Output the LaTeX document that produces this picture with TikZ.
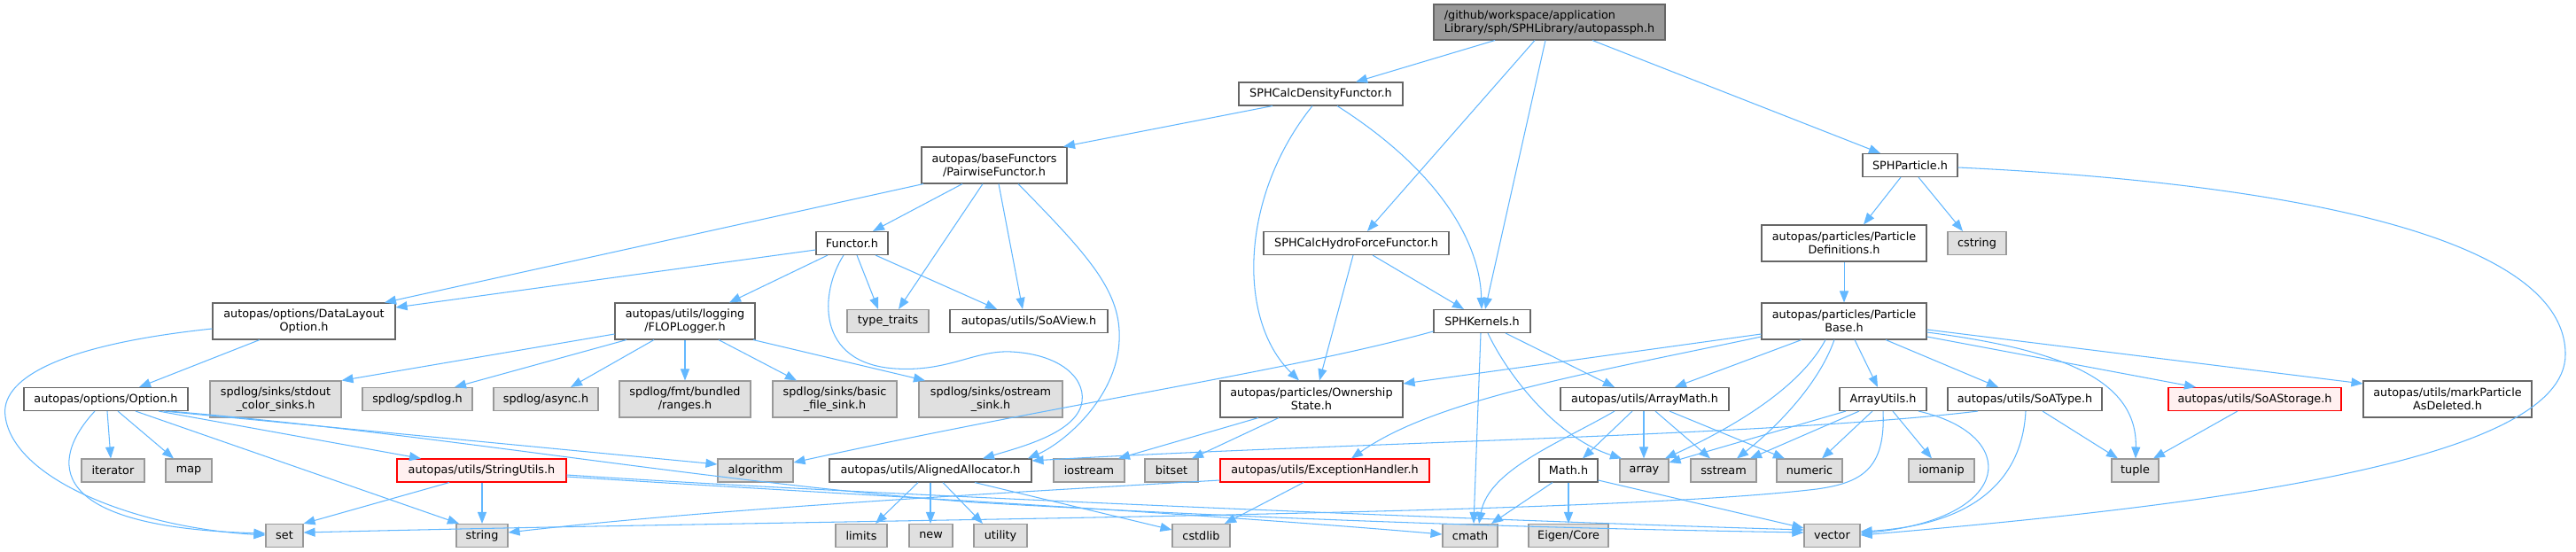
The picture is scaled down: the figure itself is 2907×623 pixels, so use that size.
\documentclass[tikz,border=0pt]{standalone}
\usepackage{fontspec}
\setmainfont{DejaVu Sans}
\usetikzlibrary{arrows.meta}
\definecolor{edgec}{HTML}{63B8FF}
\definecolor{bordn}{HTML}{666666}
\definecolor{bordg}{HTML}{999999}
\definecolor{fillg}{HTML}{E0E0E0}
\definecolor{fillr}{HTML}{FFF0F0}
\definecolor{fillroot}{HTML}{999999}
\newcommand\dgfont{\fontsize{12.8pt}{15pt}\selectfont}
\begin{document}
\begin{tikzpicture}[x=1pt,y=-1pt,
  base/.style={draw, line width=1.1pt, inner sep=0pt, align=center, font=\dgfont, text=black},
  wbox/.style={base, draw=bordn, fill=white},
  gbox/.style={base, draw=bordg, fill=fillg},
  rbox/.style={base, draw=red, fill=fillr},
  rootbox/.style={base, draw=bordn, fill=fillroot, align=left},
  one/.style={minimum height=26pt},
  two/.style={minimum height=41pt},
  dep/.style={draw=edgec, line width=1.05pt, -{Triangle[length=13pt,width=10pt]}}]
\fill[white] (0,0) rectangle (2907,623);
\useasboundingbox (0,0) rectangle (2907,623);
% nodes
\node[rootbox, minimum width=261pt, minimum height=40pt] (root) at (1748.5,25) {/github/workspace/application\\Library/sph/SPHLibrary/autopassph.h};
\node[wbox, one, minimum width=185pt] (dens) at (1490.5,106) {SPHCalcDensityFunctor.h};
\node[wbox, two, minimum width=164pt] (pair) at (1122,186.5) {autopas/baseFunctors\\/PairwiseFunctor.h};
\node[wbox, one, minimum width=81pt] (functor) at (961.5,274.5) {Functor.h};
\node[wbox, one, minimum width=209pt] (hydro) at (1530.5,274.5) {SPHCalcHydroForceFunctor.h};
\node[wbox, one, minimum width=107pt] (sphpart) at (2155.5,186.5) {SPHParticle.h};
\node[wbox, two, minimum width=186pt] (partdef) at (2081,274.5) {autopas/particles/Particle\\Definitions.h};
\node[gbox, one, minimum width=66pt] (cstring) at (2231,274.5) {cstring};
\node[wbox, two, minimum width=206pt] (datalayout) at (343,362.5) {autopas/options/DataLayout\\Option.h};
\node[wbox, two, minimum width=158pt] (flop) at (773,362.5) {autopas/utils/logging\\/FLOPLogger.h};
\node[gbox, one, minimum width=92pt] (typetraits) at (1002,362.5) {type\_traits};
\node[wbox, one, minimum width=178pt] (soaview) at (1161,362.5) {autopas/utils/SoAView.h};
\node[wbox, one, minimum width=109pt] (kernels) at (1672.5,362.5) {SPHKernels.h};
\node[wbox, two, minimum width=186pt] (partbase) at (2081,362.5) {autopas/particles/Particle\\Base.h};
\node[wbox, one, minimum width=185pt] (option) at (119.5,450.5) {autopas/options/Option.h};
\node[gbox, two, minimum width=148pt] (stdout) at (311,450.5) {spdlog/sinks/stdout\\\_color\_sinks.h};
\node[gbox, one, minimum width=124pt] (spdlog) at (471,450.5) {spdlog/spdlog.h};
\node[gbox, one, minimum width=118pt] (async) at (616,450.5) {spdlog/async.h};
\node[gbox, two, minimum width=148pt] (ranges) at (773,450.5) {spdlog/fmt/bundled\\/ranges.h};
\node[gbox, two, minimum width=140pt] (basic) at (942,450.5) {spdlog/sinks/basic\\\_file\_sink.h};
\node[gbox, two, minimum width=162pt] (ostream) at (1118,450.5) {spdlog/sinks/ostream\\\_sink.h};
\node[wbox, two, minimum width=206pt] (ownership) at (1480,450.5) {autopas/particles/Ownership\\State.h};
\node[wbox, one, minimum width=190pt] (arraymath) at (1856,450.5) {autopas/utils/ArrayMath.h};
\node[wbox, one, minimum width=98pt] (arrayutils) at (2125,450.5) {ArrayUtils.h};
\node[wbox, one, minimum width=174pt] (soatype) at (2285,450.5) {autopas/utils/SoAType.h};
\node[rbox, one, minimum width=195pt] (soastorage) at (2544.5,450.5) {autopas/utils/SoAStorage.h};
\node[wbox, two, minimum width=190pt] (markdel) at (2762,450.5) {autopas/utils/markParticle\\AsDeleted.h};
\node[gbox, one, minimum width=71pt] (iterator) at (127.5,531) {iterator};
\node[gbox, one, minimum width=52pt] (map) at (213,531) {map};
\node[rbox, one, minimum width=191pt] (stringutils) at (543.5,531) {autopas/utils/StringUtils.h};
\node[gbox, one, minimum width=85pt] (algorithm) at (852.5,531) {algorithm};
\node[wbox, one, minimum width=228pt] (aligned) at (1050,531) {autopas/utils/AlignedAllocator.h};
\node[gbox, one, minimum width=80pt] (iostream) at (1229,531) {iostream};
\node[gbox, one, minimum width=60pt] (bitset) at (1322,531) {bitset};
\node[rbox, one, minimum width=236pt] (exception) at (1495,531) {autopas/utils/ExceptionHandler.h};
\node[wbox, one, minimum width=66pt] (mathh) at (1770,531) {Math.h};
\node[gbox, one, minimum width=55pt] (array) at (1855.5,531) {array};
\node[gbox, one, minimum width=74pt] (sstream) at (1945,531) {sstream};
\node[gbox, one, minimum width=74pt] (numeric) at (2042,531) {numeric};
\node[gbox, one, minimum width=74pt] (iomanip) at (2191,531) {iomanip};
\node[gbox, one, minimum width=53pt] (tuple) at (2409.5,531) {tuple};
\node[gbox, one, minimum width=42pt] (set) at (321,604.5) {set};
\node[gbox, one, minimum width=58pt] (string) at (544,604.5) {string};
\node[gbox, one, minimum width=58pt] (limits) at (972,604.5) {limits};
\node[gbox, one, minimum width=49pt] (new) at (1050.5,604.5) {new};
\node[gbox, one, minimum width=60pt] (utility) at (1129,604.5) {utility};
\node[gbox, one, minimum width=65pt] (cstdlib) at (1355.5,604.5) {cstdlib};
\node[gbox, one, minimum width=62pt] (cmath) at (1659,604.5) {cmath};
\node[gbox, one, minimum width=90pt] (eigen) at (1770,604.5) {Eigen/Core};
\node[gbox, one, minimum width=63pt] (vector) at (2067.5,604.5) {vector};
% edges
\draw[dep] (root.south -| 1687,0) -- (dens.north -| 1530,0);
\draw[dep] (root.south -| 1732,0) -- (hydro.north -| 1543,0);
\draw[dep] (root.south -| 1744,0) -- (kernels.north -| 1676,0);
\draw[dep] (root.south -| 1797,0) -- (sphpart.north -| 2122,0);
\draw[dep] (dens.south -| 1436,0) -- (pair.north -| 1200,0);
\draw[dep] (dens.south -| 1481,0) .. controls (1400,220) and (1395,360) .. (ownership.north -| 1466,0);
\draw[dep] (dens.south -| 1509,0) .. controls (1620,190) and (1670,270) .. (kernels.north -| 1672,0);
\draw[dep] (hydro.south -| 1527,0) -- (ownership.north -| 1489,0);
\draw[dep] (hydro.south -| 1549,0) -- (kernels.north -| 1652,0);
\draw[dep] (pair.south -| 1086,0) -- (functor.north -| 985,0);
\draw[dep] (pair.south -| 1042,0) -- (datalayout.north -| 434,0);
\draw[dep] (pair.south -| 1109,0) -- (typetraits.north -| 1014,0);
\draw[dep] (pair.south -| 1127,0) -- (soaview.north -| 1154,0);
\draw[dep] (pair.south -| 1149,0) .. controls (1230,290) and (1266,330) .. (1263,385) .. controls (1260,450) and (1200,500) .. (aligned.north -| 1160,0);
\draw[dep] (functor.west |- 0,282) -- (datalayout.east |- 0,347);
\draw[dep] (functor.south -| 934,0) -- (flop.north -| 823,0);
\draw[dep] (functor.south -| 967,0) -- (typetraits.north -| 991,0);
\draw[dep] (functor.south -| 988,0) -- (soaview.north -| 1125,0);
\draw[dep] (functor.south -| 952,0) .. controls (925,330) and (920,410) .. (1010,416) .. controls (1070,420) and (1100,395) .. (1141,397) .. controls (1200,400) and (1228,430) .. (1220,458) .. controls (1210,490) and (1150,505) .. (aligned.north -| 1109,0);
\draw[dep] (datalayout.south -| 293,0) -- (option.north -| 157,0);
\draw[dep] (datalayout.west |- 0,371) .. controls (60,390) and (0,430) .. (6,470) .. controls (15,540) and (150,595) .. (set.west |- 0,604);
\draw[dep] (option.south -| 107,0) .. controls (55,520) and (50,595) .. (set.west |- 0,602);
\draw[dep] (option.south -| 121,0) -- (iterator.north -| 125,0);
\draw[dep] (option.south -| 133,0) -- (map.north -| 196,0);
\draw[dep] (option.south -| 153,0) -- (string.north -| 518,0);
\draw[dep] (option.south -| 179,0) -- (stringutils.north -| 475,0);
\draw[dep] (option.south -| 185,0) -- (algorithm.west |- 0,524);
\draw[dep] (option.south -| 191,0) .. controls (500,490) and (800,545) .. (1100,567) .. controls (1500,590) and (1800,597) .. (vector.west |- 0,601);
\draw[dep] (stringutils.south -| 507,0) -- (set.north east);
\draw[dep] (stringutils.south -| 544,0) -- (string.north -| 544,0);
\draw[dep] (stringutils.east |- 0,538) .. controls (900,555) and (1300,575) .. (cmath.west |- 0,603);
\draw[dep] (stringutils.east |- 0,536) .. controls (1000,560) and (1700,588) .. (vector.west |- 0,598);
\draw[dep] (flop.west |- 0,377) -- (stdout.north east);
\draw[dep] (flop.south -| 707,0) -- (spdlog.north -| 513,0);
\draw[dep] (flop.south -| 738,0) -- (async.north -| 644,0);
\draw[dep] (flop.south -| 773,0) -- (ranges.north -| 773,0);
\draw[dep] (flop.south -| 811,0) -- (basic.north -| 899,0);
\draw[dep] (flop.south -| 850,0) -- (ostream.north -| 1044,0);
\draw[dep] (aligned.south -| 1036,0) -- (limits.north -| 988,0);
\draw[dep] (aligned.south -| 1050,0) -- (new.north -| 1050,0);
\draw[dep] (aligned.south -| 1064,0) -- (utility.north -| 1109,0);
\draw[dep] (aligned.south -| 1100,0) -- (cstdlib.west |- 0,598);
\draw[dep] (ownership.south -| 1420,0) -- (iostream.north -| 1262,0);
\draw[dep] (ownership.south -| 1443,0) -- (bitset.north -| 1345,0);
\draw[dep] (exception.south -| 1471,0) -- (cstdlib.north -| 1382,0);
\draw[dep] (exception.west |- 0,542) .. controls (1100,558) and (800,575) .. (string.east |- 0,601);
\draw[dep] (kernels.west |- 0,374) .. controls (1450,420) and (1200,455) .. (algorithm.east |- 0,522);
\draw[dep] (kernels.south -| 1671,0) -- (cmath.north -| 1663,0);
\draw[dep] (kernels.south -| 1679,0) .. controls (1705,430) and (1760,495) .. (array.north -| 1830,0);
\draw[dep] (kernels.south -| 1699,0) -- (arraymath.north -| 1822,0);
\draw[dep] (partdef.south) -- (partbase.north);
\draw[dep] (partbase.west |- 0,377) -- (ownership.east |- 0,433);
\draw[dep] (partbase.west |- 0,380) .. controls (1800,420) and (1620,450) .. (exception.north -| 1525,0);
\draw[dep] (partbase.south -| 2033,0) -- (arraymath.north -| 1890,0);
\draw[dep] (partbase.south -| 2060,0) .. controls (2030,440) and (1950,485) .. (array.north -| 1879,0);
\draw[dep] (partbase.south -| 2070,0) .. controls (2050,440) and (1995,490) .. (sstream.north -| 1960,0);
\draw[dep] (partbase.south -| 2093,0) -- (arrayutils.north -| 2119,0);
\draw[dep] (partbase.south -| 2128,0) -- (soatype.north -| 2255,0);
\draw[dep] (partbase.east |- 0,380) -- (soastorage.north -| 2478,0);
\draw[dep] (partbase.east |- 0,372) -- (markdel.west |- 0,433);
\draw[dep] (partbase.east |- 0,375) .. controls (2330,395) and (2412,430) .. (tuple.north -| 2410,0);
\draw[dep] (arraymath.south -| 1822,0) .. controls (1760,500) and (1680,530) .. (cmath.north -| 1669,0);
\draw[dep] (arraymath.south -| 1842,0) -- (mathh.north -| 1786,0);
\draw[dep] (arraymath.south -| 1855,0) -- (array.north -| 1855,0);
\draw[dep] (arraymath.south -| 1868,0) -- (sstream.north -| 1930,0);
\draw[dep] (arraymath.south -| 1884,0) -- (numeric.north -| 2014,0);
\draw[dep] (mathh.south -| 1752,0) -- (cmath.north -| 1683,0);
\draw[dep] (mathh.south -| 1770,0) -- (eigen.north -| 1770,0);
\draw[dep] (mathh.east |- 0,542) -- (vector.west |- 0,596);
\draw[dep] (arrayutils.south -| 2083,0) -- (array.east |- 0,522);
\draw[dep] (arrayutils.south -| 2098,0) -- (sstream.north -| 1975,0);
\draw[dep] (arrayutils.south -| 2113,0) -- (numeric.north -| 2056,0);
\draw[dep] (arrayutils.south -| 2125,0) .. controls (2128,530) and (2100,545) .. (2050,552) .. controls (1800,582) and (1000,585) .. (set.east |- 0,601);
\draw[dep] (arrayutils.south -| 2136,0) -- (iomanip.north -| 2180,0);
\draw[dep] (arrayutils.south -| 2165,0) .. controls (2280,490) and (2275,585) .. (vector.east |- 0,602);
\draw[dep] (soatype.south -| 2232,0) .. controls (2000,492) and (1500,500) .. (aligned.east |- 0,520);
\draw[dep] (soatype.south -| 2305,0) -- (tuple.north -| 2390,0);
\draw[dep] (soatype.south -| 2286,0) .. controls (2282,540) and (2230,592) .. (vector.east |- 0,600);
\draw[dep] (soastorage.south -| 2525,0) -- (tuple.north -| 2430,0);
\draw[dep] (sphpart.south -| 2145,0) -- (partdef.north -| 2103,0);
\draw[dep] (sphpart.south -| 2165,0) -- (cstring.north -| 2215,0);
\draw[dep] (sphpart.east |- 0,189) .. controls (2550,205) and (2895,260) .. (2895,400) .. controls (2895,520) and (2500,570) .. (vector.east |- 0,604);
\end{tikzpicture}
\end{document}
